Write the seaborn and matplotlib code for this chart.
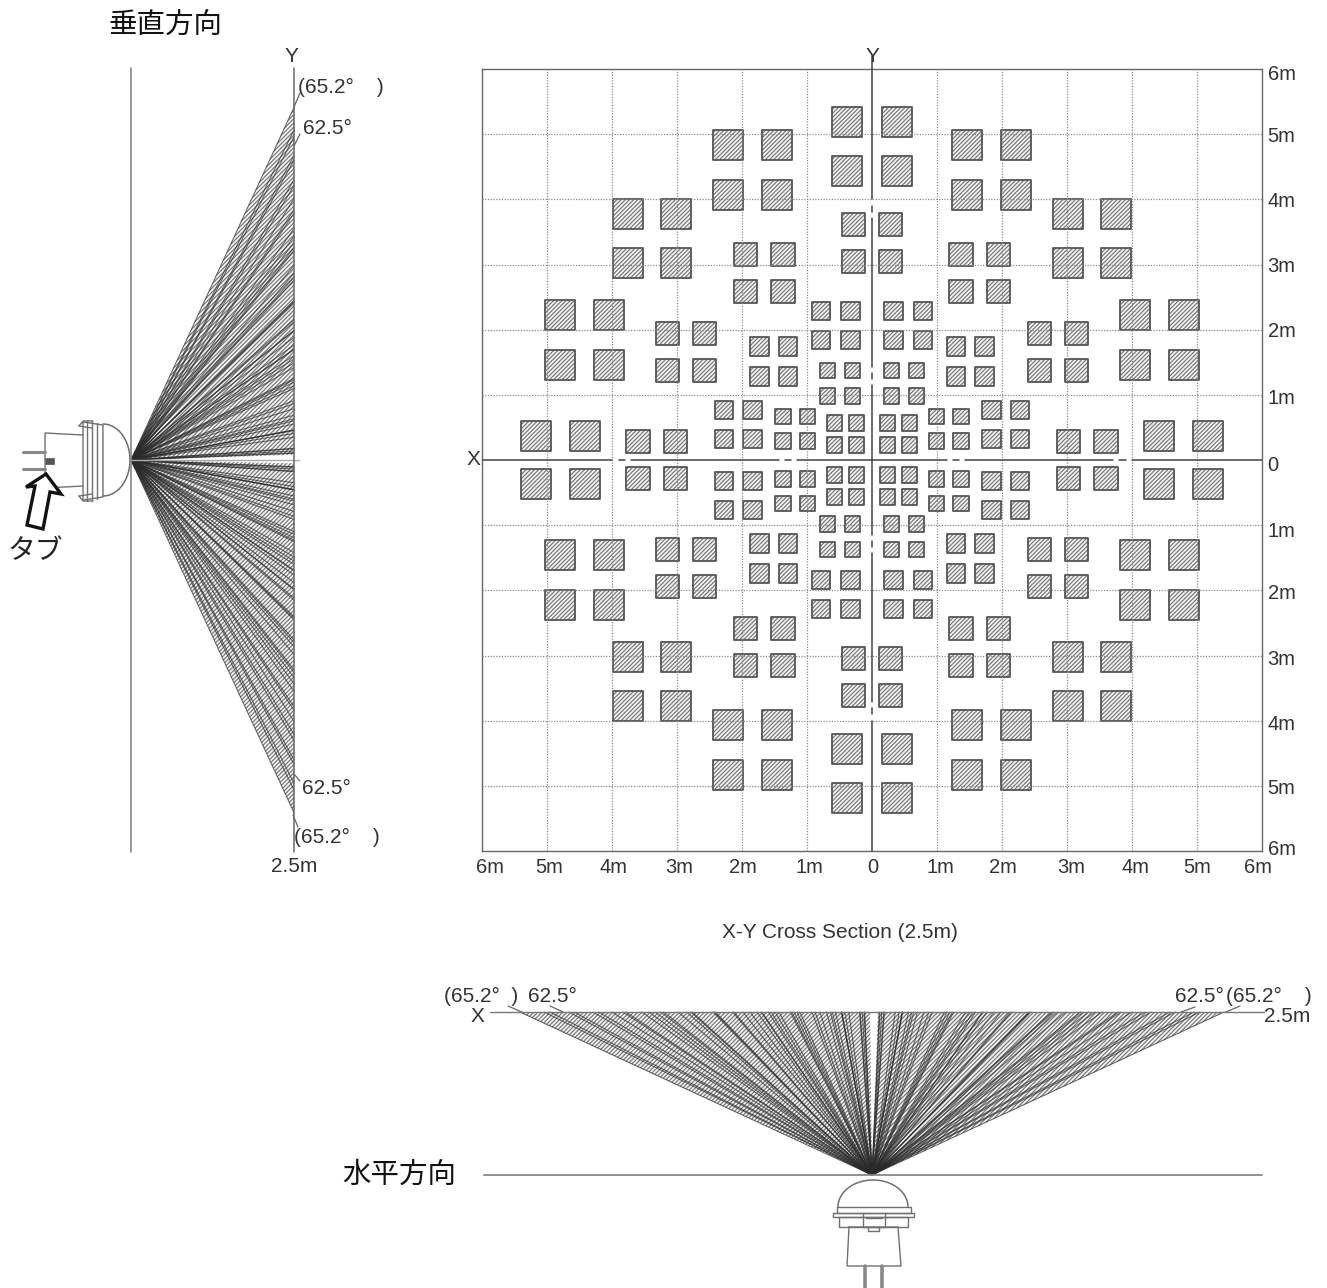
import numpy as np
import pandas as pd
import matplotlib
matplotlib.use("Agg")
import matplotlib.pyplot as plt
from matplotlib.patches import Polygon
import seaborn as sns

W, H = 1327, 1288
PX = 65.2  # pixels per metre

sns.set_theme(style="white")
plt.rcParams["font.family"] = ["Liberation Sans", "Noto Sans CJK JP", "DejaVu Sans"]
plt.rcParams["hatch.linewidth"] = 0.85

# first-quadrant square centres in metres; the pattern is mirrored in both axes
big_x = [0.38, 0.38, 1.46, 2.21, 1.46, 2.21, 3.01, 3.76, 3.01, 3.76, 4.05, 4.80, 4.05, 4.80, 4.42, 5.17]
big_y = [5.19, 4.44, 4.83, 4.83, 4.07, 4.07, 3.78, 3.78, 3.03, 3.03, 2.22, 2.22, 1.46, 1.46, 0.37, 0.37]
med_x = [0.29, 0.29, 1.37, 1.94, 1.37, 1.94, 2.58, 3.15, 2.58, 3.15, 3.02, 3.60]
med_y = [3.61, 3.04, 3.16, 3.16, 2.58, 2.58, 1.94, 1.94, 1.37, 1.37, 0.28, 0.28]
small_x = [0.33, 0.78, 0.33, 0.78, 1.29, 1.73, 1.29, 1.73, 1.84, 2.28, 1.84, 2.28]
small_y = [2.29, 2.29, 1.84, 1.84, 1.74, 1.74, 1.28, 1.28, 0.77, 0.77, 0.32, 0.32]
tiny_x = [0.30, 0.68, 0.30, 0.68, 0.99, 1.37, 0.99, 1.37, 0.24, 0.58, 0.24, 0.58]
tiny_y = [1.37, 1.37, 0.98, 0.98, 0.67, 0.67, 0.29, 0.29, 0.57, 0.57, 0.23, 0.23]

# square side in metres per group
sides = {"big": 0.46, "med": 0.355, "small": 0.28, "tiny": 0.235}
groups = {"big": (big_x, big_y), "med": (med_x, med_y),
          "small": (small_x, small_y), "tiny": (tiny_x, tiny_y)}

y_tick_pos = [5.95, 5.0, 4.0, 3.0, 2.0, 0.97, -0.05, -1.07, -2.02, -3.03, -4.03, -5.01, -5.95]
y_tick_lab = ["6m", "5m", "4m", "3m", "2m", "1m", "0", "1m", "2m", "3m", "4m", "5m", "6m"]
x_tick_pos = [-5.88, -4.97, -3.97, -2.97, -1.98, -0.97, 0.02, 1.05, 2.02, 3.06, 4.05, 5.0, 5.94]
x_tick_lab = ["6m", "5m", "4m", "3m", "2m", "1m", "0", "1m", "2m", "3m", "4m", "5m", "6m"]
grid_m = [-5, -4, -3, -2, -1, 1, 2, 3, 4, 5]

# gaps in the centre axes (metres from the centre)
axis_gaps = [(1.15, 1.24), (1.34, 1.43), (3.71, 3.80), (3.90, 4.0)]

HATCH = "/" * 8
HATCH_INK = "#757575"
HATCH_BG = "#f4f4f4"

fig = plt.figure(figsize=(W / 100, H / 100), dpi=100, facecolor="white")


def ax_px(l, t, r, b):
    a = fig.add_axes([l / W, 1 - b / H, (r - l) / W, (b - t) / H])
    a.set_facecolor("none")
    return a


def ftext(x, y, s, size=13, ha="center", color="#333333", **kw):
    fig.text(x / W, 1 - y / H, s, fontsize=size, ha=ha, va="center", color=color, **kw)


def mirrored(xs, ys):
    xs, ys = np.array(xs), np.array(ys)
    return pd.DataFrame({
        "x": np.concatenate([xs, -xs, xs, -xs]),
        "y": np.concatenate([ys, ys, -ys, -ys]),
    })


# ---------- main plan view ----------
ax = ax_px(482, 69, 1262, 851)
ax.set_xlim(-6, 6)
ax.set_ylim(-6, 6)
for name, (xs, ys) in groups.items():
    df = mirrored(xs, ys)
    side_pts = sides[name] * PX * 0.72
    sns.scatterplot(data=df, x="x", y="y", ax=ax, marker="s", s=side_pts ** 2,
                    color=HATCH_BG, edgecolor=HATCH_INK, linewidth=0,
                    hatch=HATCH, legend=False, zorder=3)
    ax.scatter(df["x"], df["y"], marker="s", s=side_pts ** 2, facecolors="none",
               edgecolors="#555555", linewidths=1.3, zorder=4)
for g in grid_m:
    ax.axvline(g, color="#8a8a8a", lw=0.9, ls=(0, (1, 1.2)), zorder=5)
    ax.axhline(g, color="#8a8a8a", lw=0.9, ls=(0, (1, 1.2)), zorder=5)


def axis_segments(limit_lo, limit_hi):
    stops = [limit_lo]
    for a, b in sorted([(-g[1], -g[0]) for g in axis_gaps] + axis_gaps):
        stops += [a, b]
    stops.append(limit_hi)
    return [(stops[i], stops[i + 1]) for i in range(0, len(stops), 2)]


for a, b in axis_segments(-6, 6):
    ax.plot([a, b], [0, 0], color="#444444", lw=1.1, zorder=6)
for a, b in axis_segments(-6, 6.2):
    ax.plot([0, 0], [a, b], color="#444444", lw=1.1, zorder=6, clip_on=False)

ax.set_xticks(x_tick_pos, x_tick_lab)
ax.set_yticks(y_tick_pos, y_tick_lab)
ax.yaxis.tick_right()
ax.tick_params(axis="both", length=0, labelsize=14.5, labelcolor="#333333")
ax.tick_params(axis="x", pad=5)
ax.tick_params(axis="y", pad=4)
ax.set_xlabel("")
ax.set_ylabel("")
for s in ax.spines.values():
    s.set_color("#666666")
    s.set_linewidth(1.0)

# beam edges in the two section views follow the square extents
edges_y = sorted({round(y + d, 3) for n, (xs, ys) in groups.items()
                  for y in ys for d in (-sides[n] / 2, sides[n] / 2)})
edges_x = sorted({round(x + d, 3) for n, (xs, ys) in groups.items()
                  for x in xs for d in (-sides[n] / 2, sides[n] / 2)})
DEPTH = 2.5
reach_65 = 5.41
gap_up, gap_down = 0.08, 0.05
gap_left, gap_right = 0.03, 0.09
RAY = dict(color="#2a2a2a", lw=0.75, alpha=0.7, zorder=3)


def fan(a, corners):
    a.add_patch(Polygon(corners, closed=True, facecolor=HATCH_BG, edgecolor=HATCH_INK,
                        hatch=HATCH, linewidth=0, zorder=2))


# ---------- left section (vertical) ----------
axl = ax_px(0, 40, 340, 880)
axl.set_xlim(-131 / PX, 209 / PX)
axl.set_ylim(-420 / PX, 420 / PX)
axl.axis("off")
fan(axl, [(0, 0), (DEPTH, reach_65), (DEPTH, gap_up)])
fan(axl, [(0, 0), (DEPTH, -reach_65), (DEPTH, -gap_down)])
for e in edges_y:
    e = min(e, reach_65)
    axl.plot([0, DEPTH], [0, e], **RAY)
    axl.plot([0, DEPTH], [0, -e], **RAY)
axl.plot([0, DEPTH + 0.08], [0, 0], color="#aaaaaa", lw=1.0, zorder=3)
axl.plot([0, 0], [-6.01, 6.01], color="#888888", lw=1.2, zorder=3)
axl.plot([DEPTH, DEPTH], [-6.01, 6.01], color="#666666", lw=1.1, zorder=4)


def to_l(pts):
    return [((x - 131) / PX, (460 - y) / PX) for x, y in pts]


GL = "#707070"
# side-view sensor outline, pixel offsets converted to the panel's metres
t = np.linspace(-np.pi / 2, np.pi / 2, 60)
axl.plot(*zip(*to_l(list(zip(103 + 27 * np.cos(t), 460 + 36 * np.sin(t))))), color=GL, lw=1.1)
for px in ([(83, 435), (45, 433), (45, 488), (83, 486)],
           [(83, 422), (103, 425), (103, 497), (83, 500), (83, 422)],
           [(87, 421), (87, 501)], [(92, 421), (92, 501)], [(97, 423), (97, 499)],
           [(79, 426), (83, 421), (93, 421)], [(79, 496), (83, 501), (93, 501)],
           [(79, 426), (92, 428)], [(79, 496), (92, 494)]):
    axl.plot(*zip(*to_l(px)), color=GL, lw=1.0)
for px in ([(23, 452), (45, 452)], [(23, 469), (45, 469)]):
    axl.plot(*zip(*to_l(px)), color="#888888", lw=2.2)
axl.add_patch(Polygon(to_l([(45, 458), (54, 458), (54, 464), (45, 464)]), closed=True,
                      facecolor="#555555", edgecolor="#555555", lw=0.5))
axl.add_patch(Polygon(to_l([(46, 474), (26, 487), (35, 486), (27, 525), (43, 529), (50, 492), (61, 494)]),
                      closed=True, facecolor="white", edgecolor="#111111", lw=2.4, zorder=5))
for px in ([(294, 107), (300, 93)], [(294, 146), (300, 134)],
           [(294, 774), (300, 781)], [(293, 815), (298, 827)]):
    axl.plot(*zip(*to_l(px)), color="#666666", lw=0.9)

# ---------- bottom section (horizontal) ----------
axb = ax_px(430, 960, 1327, 1288)
axb.set_xlim(-442 / PX, 455 / PX)
axb.set_ylim(-113 / PX, 215 / PX)
axb.axis("off")
fan(axb, [(0, 0), (-reach_65, DEPTH), (-gap_left, DEPTH)])
fan(axb, [(0, 0), (reach_65, DEPTH), (gap_right, DEPTH)])
for e in edges_x:
    e = min(e, reach_65)
    axb.plot([0, e], [0, DEPTH], **RAY)
    axb.plot([0, -e], [0, DEPTH], **RAY)
axb.plot([(484 - 872) / PX, (1262 - 872) / PX], [0, 0], color="#888888", lw=1.3, zorder=3)
axb.plot([(490 - 872) / PX, (1264 - 872) / PX], [DEPTH, DEPTH], color="#777777", lw=1.0, zorder=4)


def to_b(pts):
    return [((x - 872) / PX, (1175 - y) / PX) for x, y in pts]


t = np.linspace(0, np.pi, 60)
axb.plot(*zip(*to_b(list(zip(873 + 35 * np.cos(t), 1207 - 27 * np.sin(t))))), color=GL, lw=1.1)
for px in ([(837, 1207), (911, 1207), (911, 1213), (837, 1213), (837, 1207)],
           [(833, 1213), (914, 1213), (914, 1217), (833, 1217), (833, 1213)],
           [(839, 1217), (908, 1217), (908, 1227), (839, 1227), (839, 1217)],
           [(863, 1213), (863, 1227), (885, 1227), (885, 1213)],
           [(866, 1218), (882, 1218)],
           [(868, 1227), (868, 1231), (879, 1231), (879, 1227)],
           [(849, 1227), (847, 1266), (901, 1266), (898, 1227), (849, 1227)]):
    axb.plot(*zip(*to_b(px)), color=GL, lw=1.0)
for px in ([(865, 1266), (865, 1288)], [(882, 1266), (882, 1288)]):
    axb.plot(*zip(*to_b(px)), color="#888888", lw=2.6)
for px in ([(508, 1006), (524, 1013)], [(550, 1006), (563, 1012)],
           [(1195, 1007), (1181, 1012)], [(1240, 1006), (1226, 1012)]):
    axb.plot(*zip(*to_b(px)), color="#666666", lw=0.9)

# ---------- texts ----------
ftext(165, 26, "垂直方向", size=20.5, color="#111111")
ftext(399, 1176, "水平方向", size=20.5, color="#111111")
ftext(35, 552, "タブ", size=20, color="#222222")
ftext(291, 57, "Y", size=15)
ftext(872, 57, "Y", size=15)
ftext(473, 459, "X", size=15)
DEG = "(65.2°    )"
ftext(341, 87, DEG, size=15)
ftext(327, 128, "62.5°", size=15)
ftext(326, 788, "62.5°", size=15)
ftext(337, 837, DEG, size=15)
ftext(294, 866, "2.5m", size=15)
ftext(840, 933, "X-Y Cross Section (2.5m)", size=15)
ftext(481, 996, "(65.2°  )", size=15)
ftext(552, 996, "62.5°", size=15)
ftext(477, 1017, "X", size=15)
ftext(1199, 996, "62.5°", size=15)
ftext(1269, 996, DEG, size=15)
ftext(1287, 1016, "2.5m", size=15)

fig.savefig("out.png", dpi=100)
